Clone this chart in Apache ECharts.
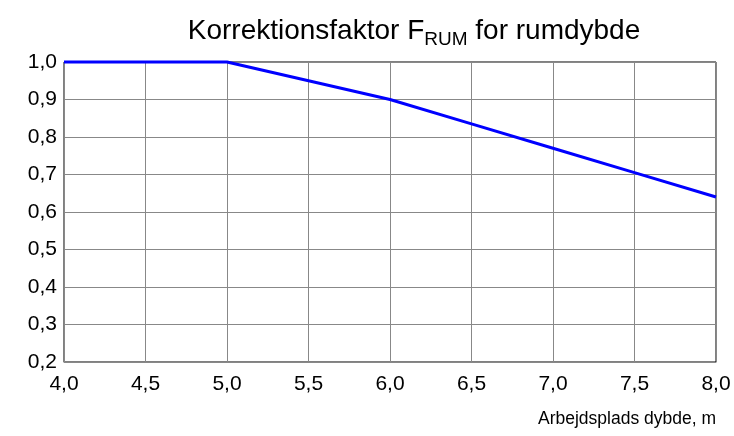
<!DOCTYPE html>
<html>
<head>
<meta charset="utf-8">
<script src="https://cdn.jsdelivr.net/npm/echarts@6/dist/echarts.min.js"></script>
<style>html,body{margin:0;padding:0;background:#fff}#c{width:734px;height:436px}</style>
</head>
<body>
<div id="c"></div>
<script>
var depths = [4.0, 4.5, 5.0, 5.5, 6.0, 6.5, 7.0, 7.5, 8.0];
var factors = [1.0, 1.0, 1.0, 0.95, 0.9, 0.835, 0.77, 0.705, 0.64];
var titleMain = 'Korrektionsfaktor F';
var titleSub = 'RUM';
var titleEnd = ' for rumdybde';
var xName = 'Arbejdsplads dybde, m';

var chart = echarts.init(document.getElementById('c'), null, {renderer: 'canvas'});
var fmt = function (v) { return v.toFixed(1).replace('.', ','); };
var font = 'Liberation Sans, Arial, sans-serif';
chart.setOption({
  animation: false,
  backgroundColor: '#fff',
  title: {
    text: '{a|' + titleMain + '}{s|' + titleSub + '}{a|' + titleEnd + '}',
    left: 409, top: 8, textAlign: 'center',
    textStyle: {
      rich: {
        a: {fontFamily: font, fontSize: 28, fontWeight: 'normal', color: '#000', lineHeight: 36},
        s: {fontFamily: font, fontSize: 19, fontWeight: 'normal', color: '#000', lineHeight: 19, verticalAlign: 'bottom'}
      }
    }
  },
  grid: {left: 64, right: 18, top: 62, bottom: 74, show: true, borderColor: '#000', borderWidth: 1},
  xAxis: {
    type: 'value', min: 4, max: 8, interval: 0.5,
    axisLine: {show: true, lineStyle: {color: '#888', width: 1}},
    axisTick: {show: false},
    splitLine: {show: true, lineStyle: {color: '#888', width: 1}},
    axisLabel: {formatter: fmt, color: '#000', fontFamily: font, fontSize: 21, margin: 12},
    name: xName, nameLocation: 'end', nameGap: 0,
    nameTextStyle: {color: '#000', fontFamily: font, fontSize: 17.5, align: 'right', verticalAlign: 'top', padding: [48, 0, 0, 0]}
  },
  yAxis: {
    type: 'value', min: 0.2, max: 1.0, interval: 0.1,
    axisLine: {show: true, lineStyle: {color: '#888', width: 1}},
    axisTick: {show: false},
    splitLine: {show: true, lineStyle: {color: '#888', width: 1}},
    axisLabel: {formatter: fmt, color: '#000', fontFamily: font, fontSize: 21, margin: 7}
  },
  series: [{
    type: 'line',
    data: depths.map(function (d, i) { return [d, factors[i]]; }),
    showSymbol: false, symbol: 'none',
    lineStyle: {color: '#0000ff', width: 3},
    clip: false
  }]
});
</script>
</body>
</html>
